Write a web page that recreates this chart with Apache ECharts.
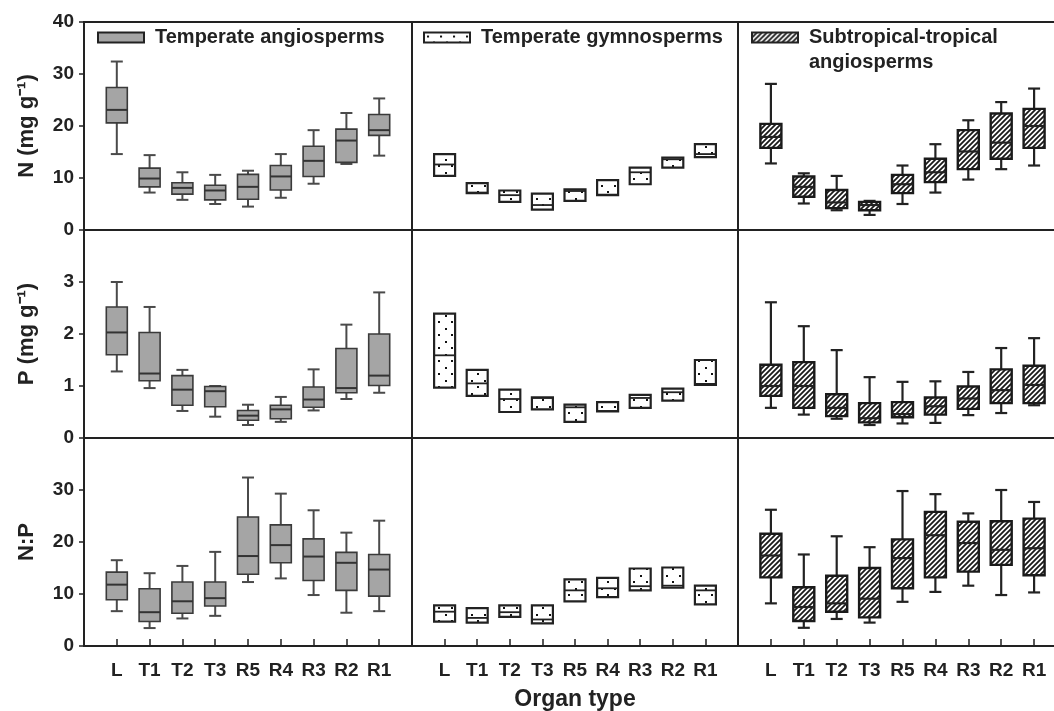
<!DOCTYPE html>
<html><head><meta charset="utf-8">
<script src="https://cdn.jsdelivr.net/npm/echarts@6/dist/echarts.min.js"></script>
<style>html,body{margin:0;padding:0;background:#fff}#c{width:1054px;height:711px}</style>
</head><body><div id="c"></div>
<script>
// ---------- data ----------
const categories = ['L', 'T1', 'T2', 'T3', 'R5', 'R4', 'R3', 'R2', 'R1'];
const groupNames = ['Temperate angiosperms', 'Temperate gymnosperms', 'Subtropical-tropical angiosperms'];
const rowNames = ['N (mg g\u207B\u00B9)', 'P (mg g\u207B\u00B9)', 'N:P'];
const rowScales = [[0, 40, 10], [0, 4, 1], [0, 40, 10]];

// [min, Q1, median, Q3, max]
const nTempAngio = [[14.6,20.6,23.1,27.4,32.4],[7.2,8.3,9.9,11.9,14.4],[5.8,6.9,8.1,9.1,11.1],[5.0,5.8,7.6,8.6,10.6],[4.5,5.9,8.3,10.7,11.4],[6.2,7.7,10.3,12.4,14.6],[8.9,10.3,13.3,16.1,19.2],[12.7,13.0,17.2,19.4,22.5],[14.3,18.2,19.2,22.2,25.3]];
// [Q1, median, Q3]
const nTempGymno = [[10.4,12.6,14.6],[7.1,7.2,9.0],[5.4,6.7,7.6],[3.9,4.8,7.0],[5.6,7.5,7.8],[6.7,6.8,9.6],[8.8,11.1,12.0],[12.0,13.6,13.9],[14.0,14.6,16.5]];
const nSubtrop = [[12.8,15.8,17.9,20.4,28.1],[5.1,6.4,8.3,10.3,10.9],[3.8,4.2,5.3,7.7,10.4],[2.9,3.8,4.8,5.4,5.6],[5.0,7.1,8.8,10.6,12.4],[7.2,9.2,11.1,13.7,16.5],[9.7,11.7,15.1,19.2,21.1],[11.7,13.7,16.8,22.4,24.6],[12.4,15.8,20.0,23.3,27.2]];

const pTempAngio = [[1.28,1.60,2.03,2.52,3.0],[0.96,1.10,1.24,2.03,2.52],[0.52,0.63,0.93,1.20,1.31],[0.41,0.60,0.90,0.99,1.0],[0.25,0.34,0.43,0.53,0.64],[0.31,0.37,0.55,0.63,0.79],[0.53,0.59,0.74,0.98,1.32],[0.75,0.87,0.96,1.72,2.18],[0.87,1.01,1.20,2.0,2.80]];
const pTempGymno = [[0.97,1.59,2.39],[0.81,1.05,1.31],[0.50,0.75,0.93],[0.55,0.77,0.78],[0.31,0.59,0.64],[0.51,0.52,0.69],[0.58,0.77,0.83],[0.72,0.88,0.95],[1.02,1.04,1.50]];
const pSubtrop = [[0.58,0.81,1.0,1.41,2.61],[0.45,0.58,1.0,1.46,2.15],[0.37,0.42,0.58,0.84,1.69],[0.25,0.30,0.38,0.67,1.17],[0.28,0.40,0.46,0.69,1.08],[0.29,0.45,0.61,0.78,1.09],[0.44,0.56,0.76,0.99,1.27],[0.48,0.67,0.92,1.32,1.73],[0.63,0.67,1.02,1.39,1.92]];

const npTempAngio = [[6.7,8.9,11.8,14.2,16.5],[3.45,4.7,6.5,11.0,14.0],[5.3,6.3,8.6,12.3,15.4],[5.8,7.7,9.2,12.3,18.1],[12.3,13.8,17.3,24.8,32.4],[13.0,16.0,19.4,23.3,29.3],[9.8,12.6,17.2,20.6,26.1],[6.4,10.7,16.0,18.0,21.8],[6.7,9.6,14.7,17.6,24.1]];
const npTempGymno = [[4.7,6.6,7.8],[4.5,5.4,7.3],[5.6,6.5,7.8],[4.35,5.1,7.8],[8.6,10.7,12.8],[9.4,11.1,13.1],[10.7,11.5,14.9],[11.2,11.6,15.1],[8.0,10.7,11.6]];
const npSubtrop = [[8.2,13.2,17.4,21.6,26.2],[3.5,4.8,7.5,11.3,17.6],[5.2,6.6,8.2,13.5,21.1],[4.5,5.5,9.1,15.0,19.0],[8.5,11.1,16.9,20.5,29.8],[10.4,13.2,21.3,25.8,29.2],[11.6,14.3,19.8,23.9,25.5],[9.8,15.6,18.5,24.0,30.0],[10.3,13.6,18.8,24.5,27.7]];

const panelData = [
  [nTempAngio, nTempGymno, nSubtrop],
  [pTempAngio, pTempGymno, pSubtrop],
  [npTempAngio, npTempGymno, npSubtrop]
];

// ---------- styling ----------
const FONT = '"Liberation Sans", Arial, Helvetica, sans-serif';
const INK = '#222';
const colLeft = [84, 412, 738];
const colWidth = [328, 326, 329];
const rowTop = [22, 230, 438];
const rowH = 208;

function hatchPattern() {
  const s = 5, cv = document.createElement('canvas');
  cv.width = s; cv.height = s;
  const g = cv.getContext('2d');
  g.fillStyle = '#fff'; g.fillRect(0, 0, s, s);
  g.strokeStyle = '#1a1a1a'; g.lineWidth = 1.8;
  g.beginPath();
  g.moveTo(-1, s + 1); g.lineTo(s + 1, -1);
  g.moveTo(-2, 2); g.lineTo(2, -2);
  g.moveTo(s - 2, s + 2); g.lineTo(s + 2, s - 2);
  g.stroke();
  return { image: cv, repeat: 'repeat' };
}
function dotPattern() {
  const w = 13, h = 13, cv = document.createElement('canvas');
  cv.width = w; cv.height = h;
  const g = cv.getContext('2d');
  g.fillStyle = '#fff'; g.fillRect(0, 0, w, h);
  g.fillStyle = '#111';
  g.fillRect(3, 3, 2, 2);
  g.fillRect(9, 9, 2, 2);
  return { image: cv, repeat: 'repeat' };
}
const fills = ['#a5a5a5', dotPattern(), hatchPattern()];
const kindStyle = [
  { box: '#3a3a3a', boxW: 1.6, wh: '#4a4a4a', whW: 2, med: '#333', medW: 2 },
  { box: '#222', boxW: 2.2, wh: '#222', whW: 2, med: '#222', medW: 1.8 },
  { box: '#1a1a1a', boxW: 2.4, wh: '#222', whW: 2.2, med: '#222', medW: 2.2 }
];
const BOXW = 21, CAPW = 12;

function makeRender(kind) {
  const st = kindStyle[kind];
  return function (params, api) {
    const x = api.value(0);
    const cx = api.coord([x, 0])[0];
    const y = (v) => api.coord([x, v])[1];
    const ch = [];
    let q1, med, q3;
    if (kind === 1) {
      q1 = y(api.value(1)); med = y(api.value(2)); q3 = y(api.value(3));
    } else {
      const mn = y(api.value(1)), mx = y(api.value(5));
      q1 = y(api.value(2)); med = y(api.value(3)); q3 = y(api.value(4));
      const ls = { stroke: st.wh, lineWidth: st.whW };
      ch.push({ type: 'line', shape: { x1: cx, y1: mx, x2: cx, y2: q3 }, style: ls });
      ch.push({ type: 'line', shape: { x1: cx, y1: q1, x2: cx, y2: mn }, style: ls });
      ch.push({ type: 'line', shape: { x1: cx - CAPW / 2, y1: mx, x2: cx + CAPW / 2, y2: mx }, style: ls });
      ch.push({ type: 'line', shape: { x1: cx - CAPW / 2, y1: mn, x2: cx + CAPW / 2, y2: mn }, style: ls });
    }
    ch.push({ type: 'rect', shape: { x: cx - BOXW / 2, y: q3, width: BOXW, height: q1 - q3 },
      style: { fill: fills[kind], stroke: st.box, lineWidth: st.boxW } });
    ch.push({ type: 'line', shape: { x1: cx - BOXW / 2, y1: med, x2: cx + BOXW / 2, y2: med },
      style: { stroke: st.med, lineWidth: st.medW } });
    return { type: 'group', children: ch };
  };
}

const xData = [''].concat(categories, ['']);
const grids = [], xAxes = [], yAxes = [], series = [];
for (let r = 0; r < 3; r++) {
  for (let c = 0; c < 3; c++) {
    const gi = r * 3 + c;
    grids.push({ left: colLeft[c], top: rowTop[r], width: colWidth[c], height: rowH,
      show: true, borderColor: INK, borderWidth: 2, backgroundColor: 'transparent',
      containLabel: false, outerBoundsMode: 'none' });
    xAxes.push({
      gridIndex: gi, type: 'category', data: xData, boundaryGap: false,
      axisLine: { show: false }, splitLine: { show: false },
      axisTick: { show: r === 2, inside: true, length: 7, interval: (i) => i > 0 && i < xData.length - 1,
        lineStyle: { color: INK, width: 1.5 } },
      axisLabel: { show: r === 2, interval: 0, fontSize: 19, fontWeight: 'bold', color: INK,
        fontFamily: FONT, margin: 15 },
      name: (r === 2 && c === 1) ? 'Organ type' : '', nameLocation: 'middle', nameGap: 42,
      nameTextStyle: { fontSize: 23, fontWeight: 'bold', color: INK, fontFamily: FONT }
    });
    const sc = rowScales[r];
    yAxes.push({
      gridIndex: gi, type: 'value', min: sc[0], max: sc[1], interval: sc[2],
      axisLine: { show: false }, splitLine: { show: false },
      axisTick: { show: c === 0, length: 5, lineStyle: { color: INK, width: 1.5 } },
      axisLabel: { show: c === 0, fontSize: 19, fontWeight: 'bold', color: INK, fontFamily: FONT,
        margin: 10, showMaxLabel: r === 0, showMinLabel: true },
      name: c === 0 ? rowNames[r] : '', nameLocation: 'middle', nameGap: 46,
      nameTextStyle: { fontSize: 22, fontWeight: 'bold', color: INK, fontFamily: FONT }
    });
    series.push({
      type: 'custom', name: groupNames[c], xAxisIndex: gi, yAxisIndex: gi,
      data: panelData[r][c].map((v, i) => [i + 1].concat(v)),
      renderItem: makeRender(c), silent: true, clip: false,
      itemStyle: { color: fills[c], borderColor: kindStyle[c].box, borderWidth: 2 }
    });
  }
}

const legendText = { fontSize: 20, fontWeight: 'bold', color: INK, fontFamily: FONT, lineHeight: 25, padding: [0, 0, 0, 6] };
const legends = [
  { data: [groupNames[0]], left: 97, top: 25 },
  { data: [groupNames[1]], left: 423, top: 25 },
  { data: [groupNames[2]], left: 751, top: 0,
    formatter: () => '\nSubtropical-tropical\nangiosperms' }
].map(l => Object.assign({
  orient: 'horizontal', padding: 0, itemWidth: 46, itemHeight: 10, icon: 'rect',
  selectedMode: false, textStyle: legendText,
  itemStyle: { borderColor: '#222', borderWidth: 2 }
}, l));

const chart = echarts.init(document.getElementById('c'), null, { renderer: 'canvas' });
chart.setOption({
  backgroundColor: '#fff',
  animation: false,
  grid: grids, xAxis: xAxes, yAxis: yAxes, legend: legends, series: series
});
</script>
</body></html>
